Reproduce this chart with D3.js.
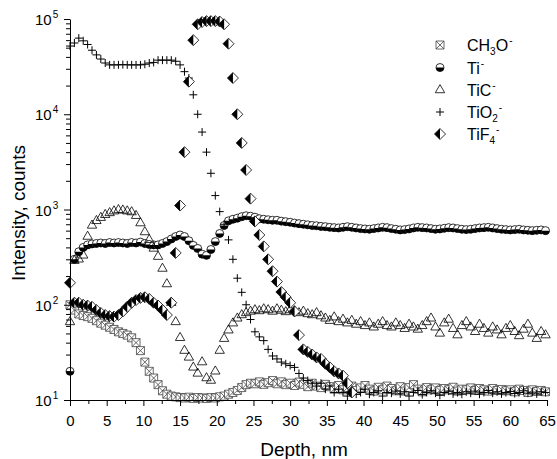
<!DOCTYPE html>
<html>
<head>
<meta charset="utf-8">
<script src="https://cdn.jsdelivr.net/npm/d3@7"></script>
<style>
  body { margin: 0; background: #fff; }
  svg { display: block; font-family: Arial, "Liberation Sans", sans-serif; }
</style>
</head>
<body>
<div id="chart"></div>
<script>
// depth profile, one point every 0.6 nm starting at 0
const depthStep = 0.6;

const ch3o = [
  100, 88, 80, 77, 75, 72, 68, 64, 61, 58,
  55, 52, 50, 48, 45, 40, 33, 25, 20, 17,
  14.5, 12.5, 11.5, 11, 10.8, 10.6, 10.5, 10.7, 10.4, 10.6,
  10.5, 10.4, 10.6, 10.5, 10.8, 11, 11.5, 12, 12.6, 13.5,
  14.5, 15, 14.8, 15.5, 14.6, 15.2, 16, 14.8, 15.5, 14.5,
  15, 14.2, 15.4, 14.6, 13.8, 15, 14, 13.5, 14.6, 13.8,
  13, 14.2, 12.8, 13.5, 14, 12.6, 13.4, 14.2, 13, 12.4,
  13.6, 12.8, 14, 13.2, 12.5, 13.8, 12.4, 13.5, 14.5, 13,
  12.2, 13.5, 12.8, 13.4, 12.6, 13.2, 12.8, 13.6, 12.4, 13,
  12.8, 13.4, 12.6, 13.2, 12.8, 12.4, 13.2, 12.6, 12.9, 12.5,
  12.8, 12.2, 13, 12.6, 12, 12.8, 12.3, 12.6, 12.2
];

const ti = [
  20, 300, 360, 400, 425, 435, 440, 445, 440, 450,
  445, 450, 445, 440, 450, 445, 455, 440, 430, 425,
  425, 440, 460, 490, 520, 540, 520, 470, 420, 390,
  340, 330, 380, 460, 560, 680, 760, 790, 810, 840,
  860, 850, 830, 800, 790, 780, 770, 770, 755, 745,
  735, 720, 710, 700, 690, 680, 675, 665, 660, 650,
  645, 640, 650, 660, 650, 640, 630, 625, 620, 630,
  640, 650, 645, 630, 620, 610, 615, 625, 640, 650,
  645, 640, 630, 620, 625, 635, 645, 640, 630, 620,
  615, 620, 630, 640, 645, 650, 640, 630, 620, 615,
  610, 615, 620, 610, 605, 600, 605, 610, 600
];

const tic = [
  66, 290, 300, 330, 520, 680, 760, 820, 880, 920,
  960, 990, 980, 960, 940, 860, 720, 580, 480, 390,
  320, 240, 165, 105, 66, 45, 33, 28, 22, 19,
  25, 17, 16, 20, 33, 44, 54, 64, 72, 78,
  82, 85, 88, 86, 90, 88, 85, 90, 87, 84,
  88, 86, 82, 85, 80, 78, 82, 76, 72, 68,
  74, 66, 70, 64, 68, 62, 66, 60, 64, 58,
  62, 66, 60, 58, 64, 60, 56, 62, 58, 55,
  60, 66, 72, 58, 50, 64, 70, 56, 48, 60,
  66, 58, 52, 62, 56, 50, 58, 54, 48, 56,
  60, 52, 47, 55, 62, 50, 44, 52, 48
];

const tio2 = [
  52000, 56000, 63000, 59000, 54000, 47000, 42000, 38000, 34500, 33000,
  33000, 33000, 33200, 33000, 33000, 33000, 33000, 33500, 34500, 35000,
  37000, 37000, 37000, 37000, 36000, 33000, 28000, 24000, 16000, 10000,
  6500, 4000, 2400, 1400, 950, 700, 480, 300, 190, 135,
  100, 70, 52, 46, 42, 34, 29, 27, 25, 24,
  23, 22, 19, 17, 16, 15, 14, 15, 13, 14,
  12, 13, 12, 11, 12.5, 11.5, 12, 13, 11.5, 12,
  12.5, 11, 12, 11.8, 12.4, 11.6, 12.2, 11, 12, 12.6,
  11.4, 12, 12.5, 11.8, 11.2, 12, 12.4, 11.6, 12, 11.5,
  12.2, 11.8, 12.4, 11.5, 12, 12.6, 11.8, 12.2, 11.6, 12,
  12.3, 11.7, 12, 12.5, 11.8, 12.1, 11.6, 12.2, 12
];

const tif4 = [
  170, 105, 105, 100, 98, 95, 88, 82, 78, 76,
  75, 78, 85, 95, 105, 112, 118, 120, 115, 105,
  98, 88, 78, 105, 350, 1100, 4000, 22000, 60000, 88000,
  93000, 95000, 95000, 95000, 94000, 88000, 55000, 24000, 10000, 5000,
  2600, 1300, 750, 540, 410, 300, 225, 175, 136, 120,
  105, 85, 48, 34, 32, 30, 28, 27, 24, 22,
  20, 19, 18, 15, 12
];

const xTicks = [0, 5, 10, 15, 20, 25, 30, 35, 40, 45, 50, 55, 60, 65];
const xMinorTicks = [2.5, 7.5, 12.5, 17.5, 22.5, 27.5, 32.5, 37.5, 42.5, 47.5, 52.5, 57.5, 62.5];
const yTicks = [10, 100, 1000, 10000, 100000];
const yExponents = ["1", "2", "3", "4", "5"];

const series = [
  { values: ch3o, symbol: "squareX", label: [["CH", ""], ["3", "sub"], ["O", ""], ["-", "sup"]] },
  { values: ti, symbol: "halfCircle", label: [["Ti", ""], ["-", "sup"]] },
  { values: tic, symbol: "triangle", label: [["TiC", ""], ["-", "sup"]] },
  { values: tio2, symbol: "plus", label: [["TiO", ""], ["2", "sub"], ["-", "sup"]] },
  { values: tif4, symbol: "halfDiamond", label: [["TiF", ""], ["4", "sub"], ["-", "sup"]] }
];

const width = 557, height = 459;

const svg = d3.select("#chart")
  .append("svg")
  .attr("width", width)
  .attr("height", height);

const x = d3.scaleLinear().domain([0, 65]).range([70, 547]);
const y = d3.scaleLog().domain([10, 100000]).range([400, 19]);

// minor log ticks 2..9 in each decade
const yMinorTicks = [];
yTicks.slice(0, -1).forEach(t => {
  for (let k = 2; k <= 9; k++) yMinorTicks.push(t * k);
});

function drawSymbol(g, type) {
  if (type === "squareX") {
    g.append("path")
      .attr("d", "M-4,-4H4V4H-4Z M-4,-4L4,4 M4,-4L-4,4")
      .attr("fill", "#fff")
      .attr("stroke", "#444")
      .attr("stroke-width", 0.8);
  } else if (type === "halfCircle") {
    g.append("circle")
      .attr("r", 4)
      .attr("fill", "#fff")
      .attr("stroke", "#000")
      .attr("stroke-width", 0.8);
    g.append("path")
      .attr("d", "M-4,0A4,4 0 0 0 4,0Z")
      .attr("fill", "#000");
  } else if (type === "triangle") {
    g.append("path")
      .attr("d", d3.symbol(d3.symbolTriangle, 38)())
      .attr("fill", "none")
      .attr("stroke", "#000")
      .attr("stroke-width", 0.8);
  } else if (type === "plus") {
    g.append("path")
      .attr("d", "M-4,0H4M0,-4V4")
      .attr("stroke", "#000")
      .attr("stroke-width", 1);
  } else if (type === "halfDiamond") {
    g.append("path")
      .attr("d", "M0,-5.5L5.5,0L0,5.5L-5.5,0Z")
      .attr("fill", "#fff")
      .attr("stroke", "#000")
      .attr("stroke-width", 0.8);
    g.append("path")
      .attr("d", "M0,-5.5L-5.5,0L0,5.5Z")
      .attr("fill", "#000");
  }
}

// Data points
series.forEach(s => {
  const pts = s.values
    .map((v, i) => ({ depth: i * depthStep, value: v }))
    .filter(p => p.value != null);

  svg.append("g")
    .selectAll("g")
    .data(pts)
    .enter().append("g")
    .attr("transform", p => `translate(${x(p.depth)},${y(p.value)})`)
    .each(function () { drawSymbol(d3.select(this), s.symbol); });
});

// Axes
const xAxisG = svg.append("g")
  .attr("transform", `translate(0,${y.range()[0]})`)
  .call(d3.axisBottom(x).tickValues(xTicks).tickSize(6).tickSizeOuter(0).tickPadding(9));

svg.append("g")
  .attr("transform", `translate(0,${y.range()[0]})`)
  .call(d3.axisBottom(x).tickValues(xMinorTicks).tickSize(4).tickFormat(""))
  .call(g => g.select(".domain").remove());

xAxisG.selectAll("text")
  .style("font-size", "15px")
  .style("font-family", "Arial, 'Liberation Sans', sans-serif")
  .attr("fill", "#000");

svg.append("g")
  .attr("transform", `translate(${x.range()[0]},0)`)
  .call(d3.axisLeft(y).tickValues(yTicks).tickSize(6).tickSizeOuter(0).tickFormat(""));

svg.append("g")
  .attr("transform", `translate(${x.range()[0]},0)`)
  .call(d3.axisLeft(y).tickValues(yMinorTicks).tickSize(4).tickFormat(""))
  .call(g => g.select(".domain").remove());

svg.selectAll(".domain, .tick line")
  .attr("stroke", "#000")
  .attr("stroke-width", 1);

// y tick labels as powers of ten
const yLabels = svg.append("g")
  .selectAll("text")
  .data(yTicks)
  .enter().append("text")
  .attr("x", 35)
  .attr("y", d => y(d) + 6)
  .style("font-size", "15px")
  .attr("fill", "#000");

yLabels.append("tspan").text("10");
yLabels.append("tspan")
  .attr("dx", 1)
  .attr("dy", -7)
  .style("font-size", "10px")
  .text((d, i) => yExponents[i]);

// Axis titles
svg.append("text")
  .attr("transform", "translate(25,213) rotate(-90)")
  .style("text-anchor", "middle")
  .style("font-size", "19px")
  .attr("fill", "#000")
  .text("Intensity, counts");

svg.append("text")
  .attr("x", 304)
  .attr("y", 456)
  .style("text-anchor", "middle")
  .style("font-size", "19px")
  .attr("fill", "#000")
  .text("Depth, nm");

// Legend
const legendRows = [45, 67.5, 90, 112, 134];
const legend = svg.append("g");

series.forEach((s, i) => {
  const row = legend.append("g").attr("transform", `translate(440,${legendRows[i]})`);
  drawSymbol(row, s.symbol);

  const t = row.append("text")
    .attr("x", 27)
    .attr("y", 6)
    .style("font-size", "16px")
    .attr("fill", "#000");

  let shift = 0;
  s.label.forEach(([txt, kind]) => {
    const span = t.append("tspan").text(txt);
    if (kind === "sub") {
      span.attr("dy", 4 - shift).style("font-size", "10px");
      shift = 4;
    } else if (kind === "sup") {
      span.attr("dy", -7 - shift).attr("dx", 1).style("font-size", "10px");
      shift = -7;
    } else {
      span.attr("dy", -shift);
      shift = 0;
    }
  });
});
</script>
</body>
</html>
